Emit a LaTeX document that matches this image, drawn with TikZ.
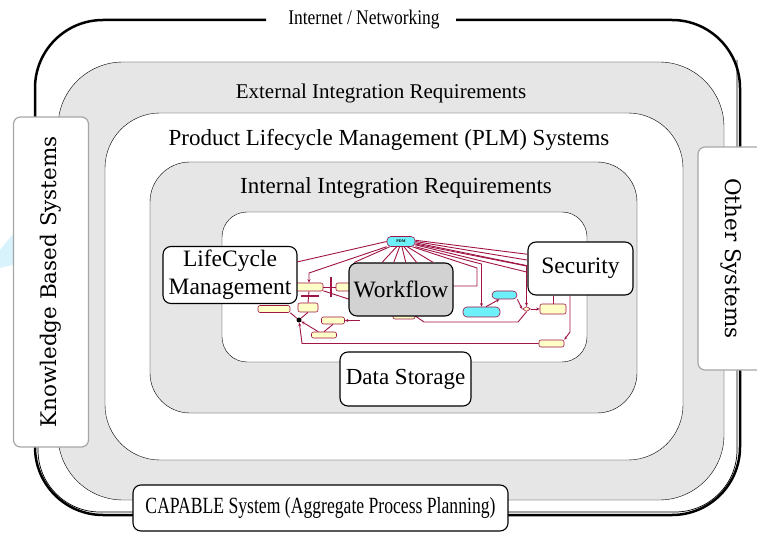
\documentclass[tikz,border=0pt]{standalone}
\usepackage{fontspec}
\setmainfont{Liberation Serif}
\newfontfamily\narrowfont{Liberation Serif}[FakeStretch=0.84]
\newfontfamily\condfont{Liberation Serif}[FakeStretch=0.76]
\newfontfamily\sidefont{DejaVu Serif}
\usetikzlibrary{shapes.geometric,arrows.meta}

\definecolor{extgray}{RGB}{230,230,230}
\definecolor{wfred}{RGB}{160,20,70}
\definecolor{wfyellow}{RGB}{255,255,200}
\definecolor{wfcyan}{RGB}{110,240,250}

\tikzset{
  layerlabel/.style={font=\fontsize{23}{26}\selectfont, inner sep=2pt},
  partbox/.style={draw, fill=white, line width=1.1pt, rounded corners=8pt, align=center,
    font=\fontsize{23.5}{28}\selectfont, inner sep=0pt},
  sidebox/.style={draw=gray!70, fill=white, line width=1.2pt, rounded corners=7pt,
    font=\sidefont\fontsize{21.5}{24}\selectfont, inner sep=0pt},
  wfline/.style={draw=wfred, line width=0.9pt},
  wfarrow/.style={wfline, -{Stealth[length=3.5pt,width=3pt]}},
  wfstate/.style={draw=wfred, fill=wfyellow, line width=0.6pt, rounded corners=2pt, inner sep=0pt},
  wfact/.style={wfstate, fill=wfcyan, rounded corners=4pt},
}

\begin{document}
\begin{tikzpicture}[x=1pt, y=-1pt]
\useasboundingbox (0,0) rectangle (757,534);

\fill[cyan!15] (0,250) -- (13,234) -- (13,265) -- (0,268) -- cycle;

% network ring
\draw[line width=2.5pt, rounded corners=68pt] (266,20) -- (35,20) -- (35,515) -- (740,515) -- (740,20) -- (456,20);
\draw[line width=0.7pt, rounded corners=62pt] (737,60) -- (737,512) -- (38,512) -- (38,440);
\node[layerlabel, font=\narrowfont\fontsize{20.8}{24}\selectfont] (net) at (364,20) {Internet / Networking};

% nested layers
\draw[fill=extgray, rounded corners=65pt] (58,62) rectangle (724,500);
\draw[fill=white, rounded corners=55pt] (105,113) rectangle (683,460);
\draw[fill=extgray, rounded corners=40pt] (150,162) rectangle (637,413);
\draw[fill=white, rounded corners=25pt] (222,212) rectangle (587,362);

\node[layerlabel, font=\fontsize{21}{24}\selectfont] (ext) at (381,93) {External Integration Requirements};
\node[layerlabel] (plm) at (389,140) {Product Lifecycle Management (PLM) Systems};
\node[layerlabel] (int) at (396,188) {Internal Integration Requirements};

% workflow model
\node[wfact, minimum width=28pt, minimum height=10pt, font=\fontsize{4}{4}\selectfont\bfseries] (pdm) at (401,241.5) {PDM};
\node[wfstate, minimum width=28pt, minimum height=8pt] (reset) at (309,287) {};
\node[wfstate, minimum width=14pt, minimum height=8pt] (second) at (343,287) {};
\node[wfstate, minimum width=20pt, minimum height=9pt] (notify) at (308,307.5) {};
\node[wfstate, minimum width=32pt, minimum height=7pt] (dispo) at (274,309) {};
\node[wfstate, minimum width=23pt, minimum height=7pt] (report) at (333,320.5) {};
\node[wfstate, minimum width=25pt, minimum height=6pt] (send) at (324,335) {};
\node[wfstate, minimum width=22pt, minimum height=6pt] (under) at (404,316) {};
\node[wfstate, minimum width=26pt, minimum height=10pt] (ana) at (553,309) {};
\node[wfstate, minimum width=25pt, minimum height=7pt] (std) at (551.5,343.5) {};
\node[wfact, minimum width=37pt, minimum height=10pt] (cap) at (481.5,312) {};
\node[wfact, minimum width=25pt, minimum height=8pt] (gen) at (504.5,295) {};
\node[diamond, draw=wfred, fill=wfyellow, line width=0.6pt, minimum width=8pt, minimum height=5pt, inner sep=0pt] (dia) at (526.5,309) {};
\node[circle, fill=black, minimum size=5pt, inner sep=0pt] (dot) at (299,320) {};
\node[fill=wfred, minimum width=2pt, minimum height=20pt, inner sep=0pt] (fork) at (331,287) {};
\node[fill=wfred, minimum width=18pt, minimum height=2pt, inner sep=0pt] (join) at (310,296.5) {};

\coordinate (k1) at (309,273);
\coordinate (k2) at (477,268);
\coordinate (k3) at (477,286);
\coordinate (k5) at (481.5,264);
\coordinate (k6) at (526.5,266);
\coordinate (k7) at (518,322);
\coordinate (k8) at (424,322);
\coordinate (k9) at (570,332);
\coordinate (k10) at (302,343.5);

\draw[wfarrow] (pdm.200) -- (k1) -- (reset.north);
\draw[wfline] (reset.east) -- (second.west);
\draw[wfline] (reset.south) -- (notify.north);
\draw[wfline] (pdm.335) -- (k2) -- (k3) -- (k3 -| 453,0);
\draw[wfarrow] (pdm.340) -- (k5) -- (cap.north);
\draw[wfarrow] (pdm.350) -- (k6) -- (dia.north);
\draw[wfarrow] (cap.50) -- (gen.220);
\draw[wfarrow] (gen.south east) -- (dia.west);
\draw[wfarrow] (dia.east) -- (ana.west);
\draw[wfline] (dia.south) -- (k7) -- (k8) -- (under.east);
\draw[wfarrow] (k10 -| std.west) -- (k10) -- (dot);
\draw[wfline] (dot) -- (dispo.south east);
\draw[wfline] (dot) -- (notify.south);
\draw[wfarrow] (send.150) -- (dot);
\draw[wfline] (report.south) -- (send.north);
\draw[wfarrow] (reset.-15) -- (370,306);
\draw[wfarrow] (360,320.5) -- (report.east);

% parts
\node[partbox, minimum width=134pt, minimum height=57pt] (life) at (230,275) {LifeCycle\\Management};
\node[partbox, fill=gray!35, minimum width=104pt, minimum height=53pt] (work) at (401,289.5) {Workflow};
\node[partbox, minimum width=105pt, minimum height=53pt] (sec) at (580.5,268.5) {Security};
\node[partbox, minimum width=131pt, minimum height=54pt, font=\fontsize{23}{26}\selectfont] (store) at (405.5,379) {Data Storage};

\draw[wfline] (pdm.west) -- (life.11);
\foreach \a/\b in {205/150, 230/125, 255/105, 280/80, 300/60, 320/40}
  \draw[wfline] (pdm.\a) -- (work.\b);
\foreach \a/\b in {5/165, 0/171, 355/177, 347/184}
  \draw[wfline] (pdm.\a) -- (sec.\b);
\draw[wfline] (ana.north) -- (ana.north |- sec.south);
\draw[wfarrow] (k9 |- sec.south) -- (k9) -- (std.north east);

% neighbouring systems
\node[sidebox, rotate=90, minimum width=330pt, minimum height=75pt] (kbs) at (51,282) {Knowledge Based Systems};
\node[sidebox, rotate=-90, minimum width=223pt, minimum height=67pt] (other) at (731.5,258.5) {Other Systems};
\node[partbox, minimum width=375pt, minimum height=46pt, font=\condfont\fontsize{23.2}{26}\selectfont] (capable) at (320.5,508) {CAPABLE System (Aggregate Process Planning)};
\end{tikzpicture}
\end{document}
